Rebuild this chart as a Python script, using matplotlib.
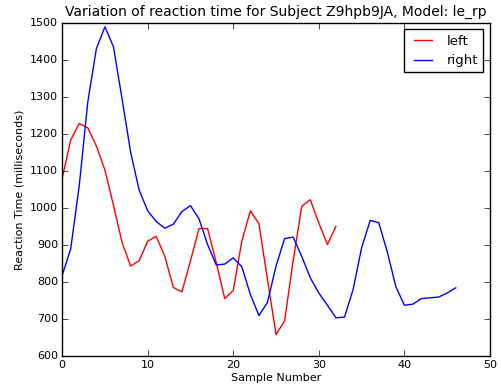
import matplotlib
matplotlib.use("Agg")
import matplotlib.pyplot as plt
import numpy as np

plt.style.use('classic')
plt.rcParams['figure.dpi'] = 100
plt.rcParams['figure.facecolor'] = 'white'
plt.rcParams['savefig.facecolor'] = 'white'

# reaction times (ms)
left = [1079, 1183, 1228, 1216, 1167, 1102, 1007, 907, 843, 857,
        910, 923, 869, 785, 773, 857, 944, 944, 853, 755,
        777, 910, 992, 957, 806, 658, 695, 857, 1004, 1022,
        959, 901, 950]
right = [817, 889, 1060, 1286, 1430, 1489, 1435, 1295, 1151, 1048,
         992, 963, 945, 956, 990, 1006, 970, 901, 846, 848,
         865, 841, 766, 709, 745, 843, 917, 921, 869, 811,
         770, 737, 703, 705, 779, 892, 966, 960, 881, 787,
         737, 740, 755, 757, 759, 770, 784]

fig = plt.figure(figsize=(5.01, 3.92))
ax = fig.add_axes([0.124, 0.092, 0.854, 0.850])
ax.plot(np.arange(len(left)), left, 'r-', label='left', linewidth=1)
ax.plot(np.arange(len(right)), right, 'b-', label='right', linewidth=1)

ax.set_xlim(0, 50)
ax.set_ylim(600, 1500)
ax.tick_params(labelsize=8, pad=3)
ax.set_xlabel("Sample Number", fontsize=8, labelpad=2)
ax.set_ylabel("Reaction Time (milliseconds)", fontsize=8, labelpad=4)
ax.set_title("Variation of reaction time for Subject Z9hpb9JA, Model: le_rp", fontsize=10)
ax.legend(loc='upper right', fontsize=9.5)

plt.savefig("out.png", dpi=100)
